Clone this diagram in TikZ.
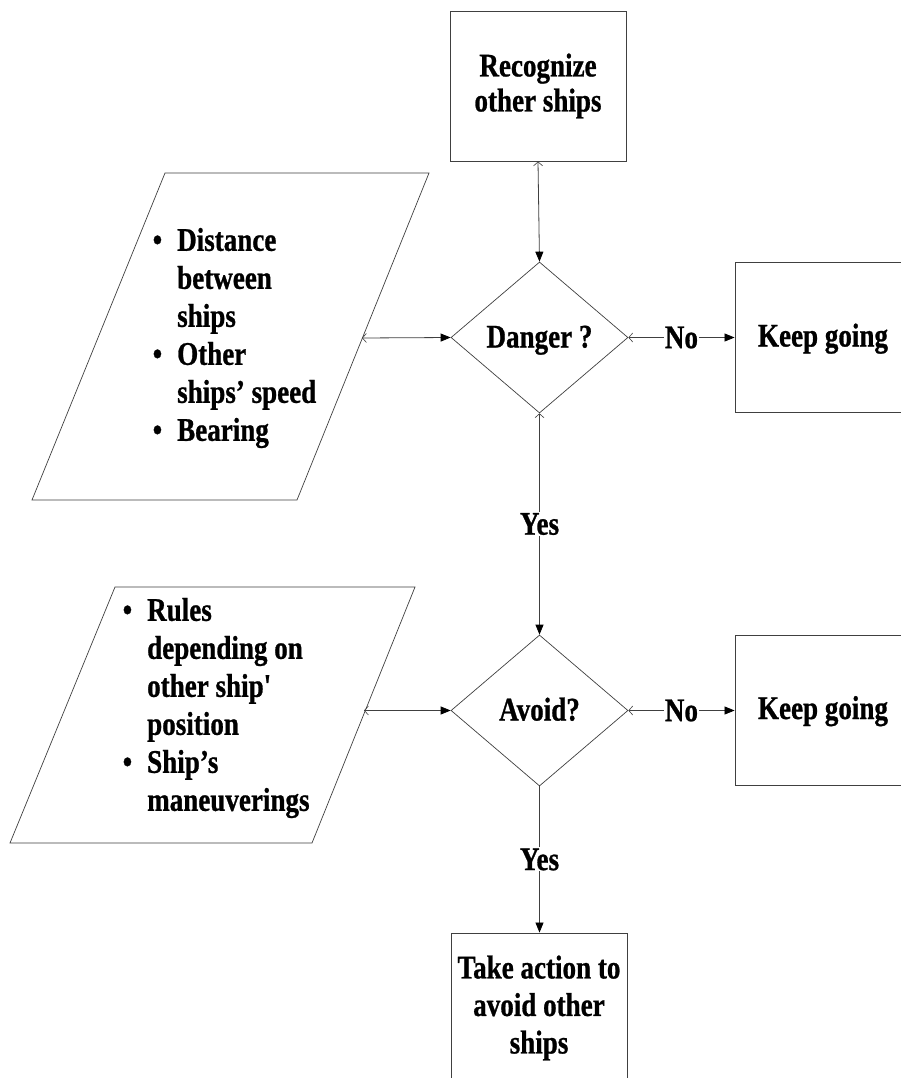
\documentclass[tikz,border=0pt]{standalone}
\usepackage{fontspec}
\setmainfont{Liberation Serif}[FakeStretch=0.82,BoldFeatures={FakeBold=0.8}]
\usetikzlibrary{shapes.geometric,arrows.meta}
\definecolor{edge}{HTML}{404040}
\begin{document}
\begin{tikzpicture}[x=1pt,y=-1pt,
  labelfont/.style={font=\bfseries\fontsize{33}{35}\selectfont},
  box/.style={draw=edge,line width=0.9pt,rectangle,minimum width=176pt,
    minimum height=150pt,inner sep=0pt,align=center,labelfont},
  choice/.style={draw=edge,line width=0.7pt,diamond,minimum width=177pt,
    minimum height=151pt,inner sep=0pt,labelfont},
  datashape/.style={draw=edge,line width=0.7pt},
  flow/.style={draw=edge,line width=0.8pt,
    {Straight Barb[length=4pt,width=9pt,line width=0.6pt]}-{Triangle[length=10pt,width=8pt,color=black]}},
  fwd/.style={draw=edge,line width=0.8pt,-{Triangle[length=10pt,width=8pt,color=black]}},
  tag/.style={fill=white,inner sep=1pt,labelfont},
  listtext/.style={anchor=west,align=left,inner sep=0pt,
    font=\bfseries\fontsize{33}{38}\selectfont}
]
\newcommand{\itemdot}{\llap{\textbullet\hspace{15pt}}}
\useasboundingbox (0,0) rectangle (901,1078);
\fill[white] (0,0) rectangle (901,1078);
\clip (0,0) rectangle (901,1078);

% process boxes and decisions
\node[box] (recog) at (538,86) {Recognize\\other ships};
\node[choice,text height=22pt,text depth=2pt] (danger) at (539.5,337.5) {Danger ?};
\node[box,text height=22pt,text depth=4pt] (keep1) at (823,337.5) {Keep going};
\node[choice,text height=22pt,text depth=2pt] (avoid) at (539.5,710.5) {Avoid?};
\node[box,text height=22pt,text depth=4pt] (keep2) at (823,710) {Keep going};
\node[box,font=\bfseries\fontsize{33}{37.5}\selectfont] (act) at (539,1008)
  {Take action to\\avoid other\\ships};

% input data (parallelograms)
\coordinate (d1a) at (165,173);
\coordinate (d1b) at (429,173);
\coordinate (d1c) at (297,500);
\coordinate (d1d) at (32,500);
\draw[datashape] (d1a) -- (d1b) -- (d1c) -- (d1d) -- cycle;
\coordinate (d1out) at (362,338);
\node[listtext] (list1) at (177,338)
  {\itemdot Distance\\between\\ships\\\itemdot Other\\ships’ speed\\\itemdot Bearing};

\coordinate (d2a) at (115,587);
\coordinate (d2b) at (415,587);
\coordinate (d2c) at (312,843);
\coordinate (d2d) at (10,843);
\draw[datashape] (d2a) -- (d2b) -- (d2c) -- (d2d) -- cycle;
\coordinate (d2out) at (364,710.5);
\node[listtext] (list2) at (147,708)
  {\itemdot Rules\\depending on\\other ship\textquotesingle\\position\\\itemdot Ship’s\\maneuverings};

% connectors
\draw[flow] (recog.south) -- (danger.north);
\draw[flow] (d1out) -- (danger.west);
\draw[flow] (danger.east) -- node[tag] (no1) {No} (keep1.west |- danger.east);
\draw[flow] (danger.south) -- node[tag] (yes1) {Yes} (avoid.north);
\draw[flow] (d2out) -- (avoid.west);
\draw[flow] (avoid.east) -- node[tag] (no2) {No} (keep2.west |- avoid.east);
\draw[fwd] (avoid.south) -- node[tag] (yes2) {Yes} (act.north -| avoid.south);
\end{tikzpicture}
\end{document}
